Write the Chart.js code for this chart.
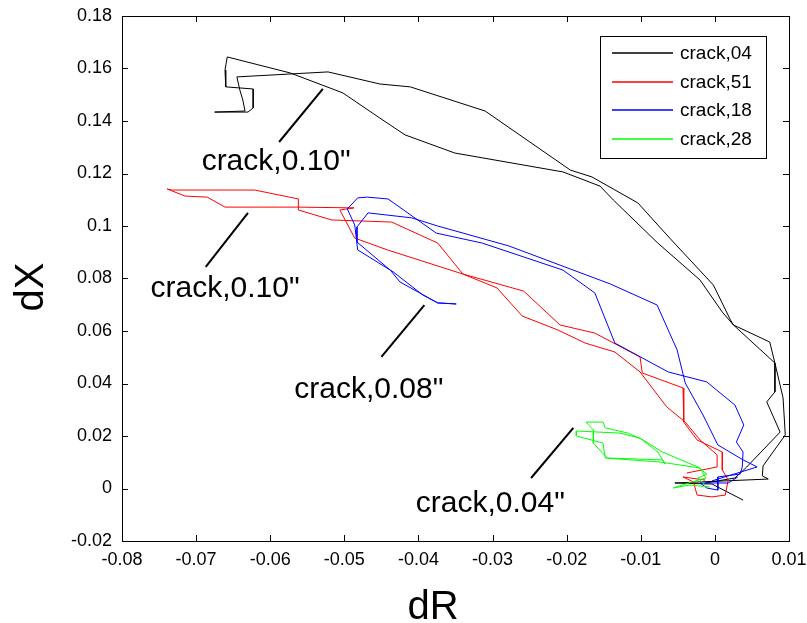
<!DOCTYPE html>
<html>
<head>
<meta charset="utf-8">
<script src="https://cdn.jsdelivr.net/npm/chart.js@4"></script>
<style>
  html, body { margin: 0; padding: 0; background: #fff; }
  #wrap { width: 807px; height: 623px; position: relative; }
</style>
</head>
<body>
<div id="wrap"><canvas id="chart"></canvas></div>
<script>
// axis ticks
const xTicks = [-0.08, -0.07, -0.06, -0.05, -0.04, -0.03, -0.02, -0.01, 0, 0.01];
const yTicks = [-0.02, 0, 0.02, 0.04, 0.06, 0.08, 0.1, 0.12, 0.14, 0.16, 0.18];

// series: dR (x) and dX (y) for each crack trace
const seriesNames = ['crack,04', 'crack,51', 'crack,18', 'crack,28'];
const seriesColors = ['#000000', '#ff0000', '#0000ff', '#00ff00'];

const crack04R = [0.0038,-0.0004,-0.0054,-0.0020,0.0072,0.0064,0.0065,0.0095,0.0092,0.0081,0.0074,0.0025,0.0010,-0.0020,-0.0077,-0.0137,-0.0155,-0.0205,-0.0351,-0.0418,-0.0452,-0.0502,-0.0573,-0.0658,-0.0661,-0.0660,-0.0623,-0.0623,-0.0630,-0.0675,-0.0634,-0.0637,-0.0641,-0.0645,-0.0522,-0.0452,-0.0411,-0.0310,-0.0195,-0.0166,-0.0104,-0.0061,-0.0002,0.0021,0.0025,0.0081,0.0081,0.0070,0.0088,0.0043,0.0027,-0.0013];
const crack04X = [-0.0044,0.0017,0.0021,0.0025,0.0036,0.0048,0.0086,0.0204,0.0345,0.0478,0.0558,0.0623,0.0672,0.0794,0.0935,0.1099,0.1152,0.1206,0.1278,0.1347,0.1411,0.1507,0.1583,0.1644,0.1594,0.1530,0.1522,0.1450,0.1434,0.1434,0.1438,0.1480,0.1518,0.1568,0.1587,0.1541,0.1530,0.1438,0.1213,0.1187,0.1088,0.0954,0.0775,0.0642,0.0623,0.0478,0.0368,0.0330,0.0215,0.0082,0.0040,0.0021];

const crack51R = [-0.0038,0.0003,0.0003,-0.0020,-0.0040,-0.0065,-0.0101,-0.0135,-0.0175,-0.0212,-0.0260,-0.0294,-0.0340,-0.0374,-0.0436,-0.0517,-0.0562,-0.0562,-0.0621,-0.0733,-0.0739,-0.0715,-0.0685,-0.0661,-0.0564,-0.0487,-0.0506,-0.0486,-0.0442,-0.0340,-0.0258,-0.0209,-0.0162,-0.0101,-0.0098,-0.0043,-0.0042,-0.0024,0.0010,0.0010,0.0018,0.0014,-0.0004,-0.0024,-0.0029,-0.0043,-0.0013];
const crack51X = [0.0059,0.0082,0.0128,0.0185,0.0253,0.0311,0.0444,0.0520,0.0554,0.0604,0.0657,0.0764,0.0817,0.0935,0.1015,0.1023,0.1061,0.1103,0.1137,0.1137,0.1141,0.1114,0.1110,0.1072,0.1072,0.1069,0.1061,0.0954,0.0909,0.0817,0.0752,0.0623,0.0592,0.0501,0.0440,0.0383,0.0253,0.0185,0.0139,0.0071,0.0032,-0.0025,-0.0032,-0.0025,0.0025,0.0044,0.0032];

const crack18R = [-0.0004,0.0057,0.0038,0.0004,-0.0016,-0.0040,-0.0051,-0.0078,-0.0141,-0.0278,-0.0374,-0.0409,-0.0468,-0.0483,-0.0483,-0.0438,-0.0425,-0.0374,-0.0349,-0.0374,-0.0394,-0.0434,-0.0482,-0.0486,-0.0496,-0.0482,-0.0469,-0.0441,-0.0376,-0.0314,-0.0205,-0.0162,-0.0135,-0.0063,-0.0011,0.0027,0.0039,0.0029,0.0038,0.0037,0.0034,0.0004,0.0004,-0.0011,-0.0020,0.0018,0.0031];
const crack18X = [0.0029,0.0082,0.0109,0.0166,0.0280,0.0402,0.0528,0.0699,0.0779,0.0924,0.1000,0.1031,0.1050,0.0996,0.0939,0.0832,0.0787,0.0707,0.0703,0.0707,0.0737,0.0825,0.0909,0.1004,0.1065,0.1107,0.1110,0.1103,0.0973,0.0935,0.0832,0.0745,0.0554,0.0444,0.0406,0.0318,0.0242,0.0177,0.0139,0.0082,0.0055,0.0044,-0.0006,0.0002,0.0021,0.0021,0.0044];

const crack28R = [-0.0013,-0.0023,-0.0011,-0.0023,-0.0071,-0.0097,-0.0117,-0.0148,-0.0151,-0.0174,-0.0164,-0.0164,-0.0145,-0.0071,-0.0067,-0.0077,-0.0101,-0.0128,-0.0187,-0.0187,-0.0151,-0.0148,-0.0074,-0.0020,-0.0012,-0.0031,-0.0056,-0.0034,-0.0007];
const crack28X = [0.0013,0.0040,0.0055,0.0082,0.0139,0.0185,0.0211,0.0231,0.0253,0.0253,0.0223,0.0173,0.0116,0.0109,0.0093,0.0139,0.0192,0.0211,0.0219,0.0200,0.0173,0.0116,0.0101,0.0078,0.0040,0.0025,0.0002,0.0013,0.0006];

// annotations (text anchor and pointer line ends, in data units)
const noteText = ['crack,0.10"', 'crack,0.10"', 'crack,0.08"', 'crack,0.04"'];
const noteTextR = [-0.0592, -0.0661, -0.0467, -0.0303];
const noteTextX = [0.1213, 0.0730, 0.0345, -0.0090];
const noteLineR1 = [-0.0529, -0.0630, -0.0392, -0.0191];
const noteLineX1 = [0.1522, 0.1050, 0.0699, 0.0231];
const noteLineR2 = [-0.0588, -0.0687, -0.0450, -0.0248];
const noteLineX2 = [0.1320, 0.0844, 0.0501, 0.0040];

const FONT = '"Liberation Sans", Arial, Helvetica, sans-serif';

function toPoints(rs, xs) {
    return rs.map((r, i) => ({ x: r, y: xs[i] }));
}

const allR = [crack04R, crack51R, crack18R, crack28R];
const allX = [crack04X, crack51X, crack18X, crack28X];

const datasets = seriesNames.map((name, i) => ({
    label: name,
    data: toPoints(allR[i], allX[i]),
    borderColor: seriesColors[i],
    backgroundColor: seriesColors[i],
    borderWidth: 1,
    pointRadius: 0,
    showLine: true,
    tension: 0,
    order: 4 - i
}));

function fmt(v) {
    return String(Math.round(v * 100) / 100);
}

// box, inner ticks, axis titles, notes and legend (MATLAB look)
const framePlugin = {
    id: 'frame',
    afterDraw(chart) {
        const ctx = chart.ctx;
        const a = chart.chartArea;
        const xs = chart.scales.x;
        const ys = chart.scales.y;
        ctx.save();

        // box
        ctx.strokeStyle = '#000';
        ctx.lineWidth = 1;
        ctx.strokeRect(a.left + 0.5, a.top + 0.5, a.right - a.left, a.bottom - a.top);

        // inner ticks
        const tl = 6;
        ctx.beginPath();
        xTicks.forEach(v => {
            const px = Math.round(xs.getPixelForValue(v)) + 0.5;
            ctx.moveTo(px, a.bottom); ctx.lineTo(px, a.bottom - tl);
            ctx.moveTo(px, a.top); ctx.lineTo(px, a.top + tl);
        });
        yTicks.forEach(v => {
            const py = Math.round(ys.getPixelForValue(v)) + 0.5;
            ctx.moveTo(a.left, py); ctx.lineTo(a.left + tl, py);
            ctx.moveTo(a.right, py); ctx.lineTo(a.right - tl, py);
        });
        ctx.stroke();

        // axis titles
        ctx.fillStyle = '#000';
        ctx.font = '40px ' + FONT;
        ctx.textAlign = 'center';
        ctx.textBaseline = 'alphabetic';
        ctx.fillText('dR', 433, 619);
        ctx.save();
        ctx.translate(43, 287);
        ctx.rotate(-Math.PI / 2);
        ctx.fillText('dX', 0, 0);
        ctx.restore();

        // notes
        ctx.lineWidth = 2;
        ctx.font = '30px ' + FONT;
        noteText.forEach((t, i) => {
            ctx.beginPath();
            ctx.moveTo(xs.getPixelForValue(noteLineR1[i]), ys.getPixelForValue(noteLineX1[i]));
            ctx.lineTo(xs.getPixelForValue(noteLineR2[i]), ys.getPixelForValue(noteLineX2[i]));
            ctx.stroke();
            ctx.fillText(t, xs.getPixelForValue(noteTextR[i]), ys.getPixelForValue(noteTextX[i]));
        });

        // legend
        const lw = 166, lh = 122;
        const lx = a.right - 23 - lw;
        const ly = a.top + 20;
        ctx.fillStyle = '#fff';
        ctx.fillRect(lx, ly, lw, lh);
        ctx.lineWidth = 1;
        ctx.strokeStyle = '#000';
        ctx.strokeRect(lx + 0.5, ly + 0.5, lw, lh);
        ctx.font = '19px ' + FONT;
        ctx.textAlign = 'left';
        ctx.textBaseline = 'middle';
        seriesNames.forEach((name, i) => {
            const ry = Math.round(ly + 17 + i * 28.5);
            ctx.strokeStyle = seriesColors[i];
            ctx.lineWidth = 1.3;
            ctx.beginPath();
            ctx.moveTo(lx + 12, ry);
            ctx.lineTo(lx + 73, ry);
            ctx.stroke();
            ctx.fillStyle = '#000';
            ctx.fillText(name, lx + 80, ry + 1);
        });

        ctx.restore();
    }
};

new Chart(document.getElementById('chart'), {
    type: 'scatter',
    data: { datasets: datasets },
    options: {
        responsive: true,
        maintainAspectRatio: false,
        animation: false,
        devicePixelRatio: 1,
        layout: { padding: { top: 16, right: 18, left: 0, bottom: 0 } },
        plugins: {
            legend: { display: false },
            tooltip: { enabled: false }
        },
        scales: {
            x: {
                type: 'linear',
                min: -0.08,
                max: 0.01,
                afterBuildTicks: s => { s.ticks = xTicks.map(v => ({ value: v })); },
                afterFit: s => {
                    s.height = 82;
                    s.paddingLeft = 0; s.paddingRight = 0;
                },
                grid: { display: false, drawTicks: false },
                border: { display: false },
                ticks: {
                    autoSkip: false,
                    maxRotation: 0,
                    padding: 8,
                    color: '#000',
                    font: { family: FONT, size: 18 },
                    callback: v => fmt(v)
                }
            },
            y: {
                type: 'linear',
                min: -0.02,
                max: 0.18,
                afterBuildTicks: s => { s.ticks = yTicks.map(v => ({ value: v })); },
                afterFit: s => {
                    s.width = 122;
                    s.paddingTop = 0; s.paddingBottom = 0;
                },
                grid: { display: false, drawTicks: false },
                border: { display: false },
                ticks: {
                    autoSkip: false,
                    padding: 10,
                    color: '#000',
                    font: { family: FONT, size: 18 },
                    callback: v => fmt(v)
                }
            }
        }
    },
    plugins: [framePlugin]
});
</script>
</body>
</html>
